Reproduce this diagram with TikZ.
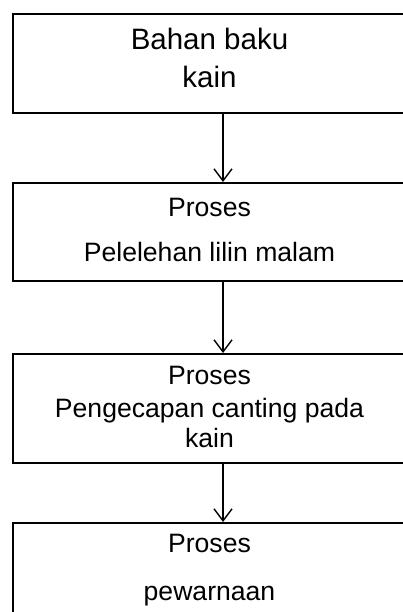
\documentclass[tikz,border=0pt]{standalone}
\usepackage{fontspec}
\setmainfont{Liberation Sans}
\usetikzlibrary{arrows.meta}
\begin{document}
\begin{tikzpicture}[x=1pt,y=1pt,
  box/.style={draw=black,line width=1.6pt,minimum width=395pt,inner sep=0pt,anchor=north west},
  lbl/.style={font=\fontsize{26.6}{30}\selectfont,anchor=base,inner sep=0pt},
  biglbl/.style={lbl,font=\fontsize{29.5}{33}\selectfont},
  arr/.style={line width=1.4pt,-{Straight Barb[length=12pt,width=18pt,line width=1.4pt]}}]
\useasboundingbox (0,0) rectangle (403,612);
\clip (0,0) rectangle (403,612);
\fill[white] (0,0) rectangle (403,612);
\node[box,minimum height=99pt]  (b1) at (12,599) {};
\node[box,minimum height=98pt]  (b2) at (12,430) {};
\node[box,minimum height=109pt] (b3) at (12,259) {};
\node[box,minimum height=120pt] (b4) at (12,90) {};
\coordinate (ax) at (223,0);
\node[biglbl] (t1a) at (209.5,562) {Bahan baku};
\node[biglbl] (t1b) at (209.5,524) {kain};
\node[lbl] (t2a) at (209.5,395.3) {Proses};
\node[lbl] (t2b) at (209.5,350.3) {Pelelehan lilin malam};
\node[lbl] (t3a) at (209.5,227) {Proses};
\node[lbl] (t3b) at (209.5,194) {Pengecapan canting pada};
\node[lbl] (t3c) at (209.5,164) {kain};
\node[lbl] (t4a) at (209.5,59) {Proses};
\node[lbl] (t4b) at (209.5,12) {pewarnaan};
\draw[arr] (b1.south -| ax) -- (b2.north -| ax);
\draw[arr] (b2.south -| ax) -- (b3.north -| ax);
\draw[arr] (b3.south -| ax) -- (b4.north -| ax);
\end{tikzpicture}
\end{document}
